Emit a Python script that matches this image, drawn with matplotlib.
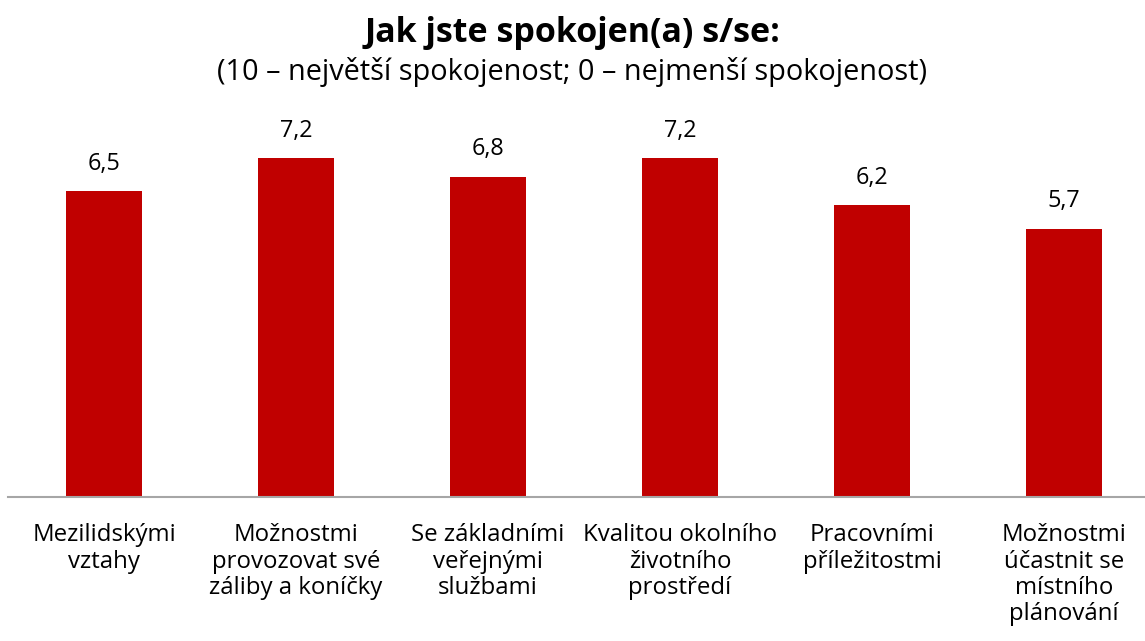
import matplotlib
matplotlib.use("Agg")
import matplotlib.pyplot as plt

plt.rcParams['font.family'] = ['Open Sans', 'DejaVu Sans']

categories = [
    "Mezilidskými\nvztahy",
    "Možnostmi\nprovozovat své\nzáliby a koníčky",
    "Se základními\nveřejnými\nslužbami",
    "Kvalitou okolního\nživotního\nprostředí",
    "Pracovními\npříležitostmi",
    "Možnostmi\núčastnit se\nmístního\nplánování",
]
values = [6.5, 7.2, 6.8, 7.2, 6.2, 5.7]
value_labels = ["6,5", "7,2", "6,8", "7,2", "6,2", "5,7"]

W, H = 1145, 641
fig = plt.figure(figsize=(W / 100, H / 100), dpi=100)
ax = fig.add_axes([8 / W, 144 / H, 1152 / W, 376.8 / H])

x = list(range(len(values)))
bars = ax.bar(x, values, width=0.4, color="#C00000", zorder=2)
ax.set_xlim(-0.5, len(values) - 0.5)
ax.set_ylim(0, 8)

for s in ["top", "right", "left"]:
    ax.spines[s].set_visible(False)
ax.spines["bottom"].set_color("#A6A6A6")
ax.spines["bottom"].set_linewidth(1.5)
ax.set_yticks([])
ax.set_xticks(x)
ax.set_xticklabels(categories, fontsize=17.3, linespacing=1.13, va="top")
ax.tick_params(axis="x", length=0, pad=19)

for xi, v, lab in zip(x, values, value_labels):
    ax.annotate(lab, (xi, v), xytext=(0, 11), textcoords="offset points",
                ha="center", va="bottom", fontsize=16.8)

fig.text(0.5, 1 - 33 / H, "Jak jste spokojen(a) s/se:", ha="center", va="center",
         fontsize=24.5, fontweight="bold")
fig.text(0.5, 1 - 72 / H, "(10 – největší spokojenost; 0 – nejmenší spokojenost)",
         ha="center", va="center", fontsize=20.8)

fig.savefig("out.png", dpi=100)
